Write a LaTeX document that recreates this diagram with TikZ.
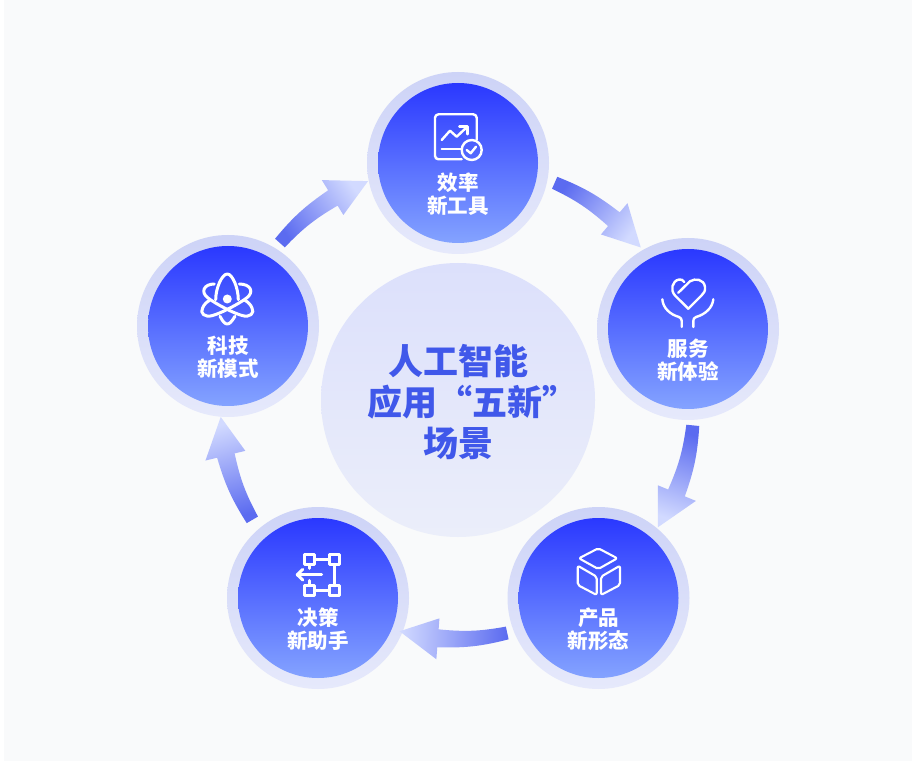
\documentclass[tikz,border=0pt]{standalone}
\usepackage{fontspec}
\newfontfamily\cjk{Noto Sans CJK SC}
\usetikzlibrary{positioning}

\definecolor{panelbg}{HTML}{F9FAFB}
\definecolor{ringtop}{HTML}{CDD3F7}
\definecolor{ringbot}{HTML}{E6E9FB}
\definecolor{disctop}{HTML}{2A38FF}
\definecolor{discbot}{HTML}{84A3FF}
\definecolor{hubtop}{HTML}{DCE0FB}
\definecolor{hubbot}{HTML}{EBEEFA}
\definecolor{hubtext}{HTML}{4058EA}
\definecolor{arrowtail}{HTML}{5B6BF0}
\definecolor{arrowtip}{HTML}{D2DAFF}

\tikzset{
	ring/.style={circle,inner sep=0pt,minimum size=182pt,top color=ringtop,bottom color=ringbot},
	disc/.style={circle,inner sep=0pt,minimum size=160pt,top color=disctop,bottom color=discbot},
	hub/.style={circle,inner sep=0pt,minimum size=274pt,top color=hubtop,bottom color=hubbot},
	caption/.style={text=white,align=center,font=\cjk\bfseries\fontsize{20.5}{23}\selectfont},
	icon/.style={draw=white,line width=2.4pt,line cap=round,line join=round},
}

\begin{document}
\begin{tikzpicture}[x=1pt,y=1pt]
	\useasboundingbox (0,0) rectangle (920,769);
	\fill[panelbg] (4,8) rectangle (912,769);

	\coordinate (pc) at (458,366);

	\node[hub] (hubc) at (458,369) {};
	\node[text=hubtext,align=center,font=\cjk\bfseries\fontsize{35}{41}\selectfont] (hubl) at (458,367) {人工智能\\\hspace*{28pt}应用“五新”\\场景};

	\node[ring] (ra) at (458,606) {};
	\node[ring] (rb) at (688,440) {};
	\node[ring] (rc) at (598.5,171) {};
	\node[ring] (rd) at (318,171) {};
	\node[ring] (re) at (228,443) {};
	\node[disc] (a) at (ra) {};
	\node[disc] (b) at (rb) {};
	\node[disc] (c) at (rc) {};
	\node[disc] (d) at (rd) {};
	\node[disc] (e) at (re) {};

	\node[caption] (al) at ([yshift=-31.5pt]a.center) {效率\\新工具};
	\node[caption] (bl) at ([yshift=-31.5pt]b.center) {服务\\新体验};
	\node[caption] (cl) at ([yshift=-31.5pt]c.center) {产品\\新形态};
	\node[caption] (dl) at ([yshift=-31.5pt]d.center) {决策\\新助手};
	\node[caption] (el) at ([yshift=-31.5pt]e.center) {科技\\新模式};

	\begin{scope}[shift={(pc)}]
		\foreach \a/\sx/\sy in {0/0/0,72/-4.5/1.5,144/-2/5,216/2/4.5,288/1.5/0}
			\shade[shift={(\sx,\sy)},top color=arrowtail,bottom color=arrowtip,shading angle=53-\a]
				(66.3-\a:247) to[bend left=8] (49.7-\a:250) -- (49.7-\a:262) -- (40.4-\a:240)
				-- (49.7-\a:221) -- (49.7-\a:232) to[bend right=8] (66.3-\a:234) -- cycle;
	\end{scope}

	% efficiency
	\begin{scope}[shift={(a.center)}]
		\draw[icon,rounded corners=3.5pt] (18.7,23) -- (18.7,48.7) -- (-23,48.7) -- (-23,3.7) -- (3.7,3.7);
		\draw[icon] (-16.3,23) -- (-8,32.3) -- (-1.3,26.3) -- (9.3,36.3);
		\draw[icon] (1.3,36.3) -- (9.3,36.3) -- (9.3,28.7);
		\draw[icon] (-16.3,14) -- (3.7,14);
		\draw[icon] (13.7,13) circle (10);
		\draw[icon] (8.7,13) -- (12.7,9.7) -- (18,16.3);
	\end{scope}

	% service
	\begin{scope}[shift={(b.center)}]
		\draw[icon] (0.3,20.3) -- (-13,33.5) .. controls (-18,39) and (-16,48) .. (-9,49.5) .. controls (-7,50) and (-5,49) .. (-3.7,47);
		\draw[icon] (-9.7,36.3) -- (2,47.7) .. controls (7,51) and (16,50) .. (17,42) .. controls (17.5,38) and (16,36) .. (13.5,33.5) -- (0.3,20.3);
		\draw[icon] (-25.7,29.7) .. controls (-25,21) and (-18,14.5) .. (-9,12) .. controls (-7,11) and (-6.3,10) .. (-6.3,8) -- (-6.3,2);
		\draw[icon] (25.3,29.7) .. controls (24.5,21) and (17,14.5) .. (8,12) .. controls (6,11) and (5.3,10) .. (5.3,8) -- (5.3,2);
	\end{scope}

	% product
	\begin{scope}[shift={(c.center)},rounded corners=2pt]
		\draw[icon,line width=2.1pt] (-0.2,49.7) -- (18.8,39.7) -- (-0.2,29) -- (-19.5,39.7) -- cycle;
		\draw[icon,line width=2.1pt] (-20.8,32.3) -- (-1.8,21.3) -- (-1.8,3) -- (-20.8,13) -- cycle;
		\draw[icon,line width=2.1pt] (2.5,21.3) -- (21.5,32.3) -- (21.5,13) -- (2.5,3) -- cycle;
	\end{scope}

	% decision
	\begin{scope}[shift={(d.center)},icon/.append style={line width=3pt}]
		\draw[icon] (-13.7,33.7) rectangle (-3.7,43.7);
		\draw[icon] (11,33.7) rectangle (21,43.7);
		\draw[icon] (-13.7,2.3) rectangle (-3.7,12.3);
		\draw[icon] (11,2.3) rectangle (21,12.3);
		\draw[icon] (-3.7,38.7) -- (11,38.7);
		\draw[icon] (-3.7,7.3) -- (11,7.3);
		\draw[icon] (16,33.7) -- (16,12.3);
		\draw[icon] (-8.7,33.7) -- (-8.7,29.7);
		\draw[icon] (-8.7,12.3) -- (-8.7,17.5);
		\draw[icon] (3.7,23.3) -- (-20.7,23.3);
		\draw[icon] (-15.3,28.6) -- (-20.7,23.3) -- (-15.3,18);
	\end{scope}

	% technology
	\begin{scope}[shift={(e.center)},icon/.append style={line width=3pt}]
		\fill[white] (-0.7,27) circle (4.5);
		\draw[icon] (-12.3,26.3) .. controls (-12.3,38) and (-6,52) .. (-0.7,52) .. controls (4.5,52) and (10.3,38) .. (10.3,26.3);
		\draw[icon] (-8,9.7) .. controls (-5,4) and (-3,2) .. (-0.7,2) .. controls (1.5,2) and (3.5,4) .. (7,9.7);
		\draw[icon] (-13.7,42) .. controls (-24,42) and (-28,34) .. (-20,28) .. controls (-12,22) and (5,13) .. (14,10.5) .. controls (22,8) and (27,13) .. (24,18) .. controls (23,21) and (20,24) .. (17,25.7);
		\draw[icon] (11.3,42) .. controls (22.6,42) and (26.6,34) .. (18.6,28) .. controls (10.6,22) and (-6.4,13) .. (-15.4,10.5) .. controls (-23.4,8) and (-28.4,13) .. (-25.4,18) .. controls (-24.4,21) and (-21.4,24) .. (-18.4,25.7);
	\end{scope}
\end{tikzpicture}
\end{document}
